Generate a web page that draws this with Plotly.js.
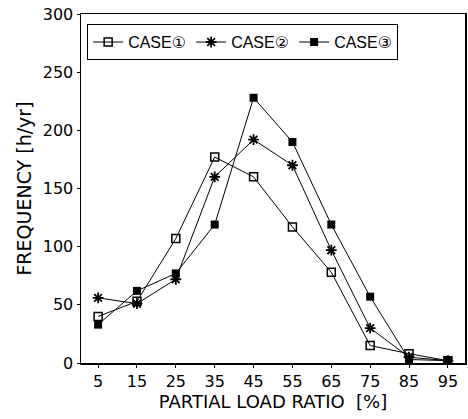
<!DOCTYPE html>
<html>
<head>
<meta charset="utf-8">
<script src="https://cdn.plot.ly/plotly-3.0.1.min.js"></script>
<style>html,body{margin:0;padding:0;background:#fff;}#chart{width:468px;height:419px;}</style>
</head>
<body>
<div id="chart"></div>
<script>
const loadRatio = [5, 15, 25, 35, 45, 55, 65, 75, 85, 95];
const case1 = [40, 53, 107, 177, 160, 117, 78, 15, 8, 2];
const case2 = [56, 51, 72, 160, 192, 170, 97, 30, 5, 2];
const case3 = [33, 62, 77, 119, 228, 190, 119, 57, 3, 2];
const seriesNames = ["CASE①", "CASE②", "CASE③"];
const xTicks = [5, 15, 25, 35, 45, 55, 65, 75, 85, 95];
const yTicks = [0, 50, 100, 150, 200, 250, 300];

const lineStyle = {color: "#000", width: 1};
const traces = [
  {x: loadRatio, y: case1, name: seriesNames[0], mode: "lines+markers", line: lineStyle,
   marker: {symbol: "square-open", size: 8, color: "#000", line: {color: "#000", width: 1.5}}},
  {x: loadRatio, y: case2, name: seriesNames[1], mode: "lines+markers", line: lineStyle,
   marker: {symbol: "asterisk", size: 9, color: "#000", line: {color: "#000", width: 1.8}}},
  {x: loadRatio, y: case3, name: seriesNames[2], mode: "lines+markers", line: lineStyle,
   marker: {symbol: "square", size: 8, color: "#000"}}
];

const tickFam = "DejaVu Sans, sans-serif";
const layout = {
  width: 468, height: 419,
  margin: {l: 81, r: 3, t: 14, b: 56},
  paper_bgcolor: "#fff", plot_bgcolor: "#fff",
  showlegend: true,
  legend: {
    orientation: "h", x: 0.016, y: 0.971, xanchor: "left", yanchor: "top",
    bgcolor: "#fff", bordercolor: "#000", borderwidth: 1,
    font: {family: "Liberation Sans, DejaVu Sans, Noto Sans CJK JP, sans-serif", size: 16, color: "#000"},
    itemwidth: 30, tracegroupgap: 0, entrywidth: 58, entrywidthmode: "pixels"
  },
  xaxis: {
    range: [0.6, 99.4], tickvals: xTicks, ticktext: xTicks.map(String),
    showline: true, linecolor: "#000", linewidth: 1.5, mirror: true,
    ticks: "outside", ticklen: 3, tickcolor: "#000",
    showgrid: false, zeroline: false,
    tickfont: {family: tickFam, size: 16, color: "#000"},
    title: {text: "PARTIAL LOAD RATIO  [%]", font: {family: tickFam, size: 18, color: "#000"}, standoff: 4}
  },
  yaxis: {
    range: [0, 300], tickvals: yTicks, ticktext: yTicks.map(String),
    showline: true, linecolor: "#000", linewidth: 1.5, mirror: true,
    ticks: "outside", ticklen: 3, tickcolor: "#000",
    showgrid: false, zeroline: false,
    tickfont: {family: tickFam, size: 16, color: "#000"},
    title: {text: "FREQUENCY [h/yr]", font: {family: tickFam, size: 19, color: "#000"}, standoff: 6}
  }
};
Plotly.newPlot("chart", traces, layout, {displayModeBar: false, staticPlot: true});
</script>
</body>
</html>
